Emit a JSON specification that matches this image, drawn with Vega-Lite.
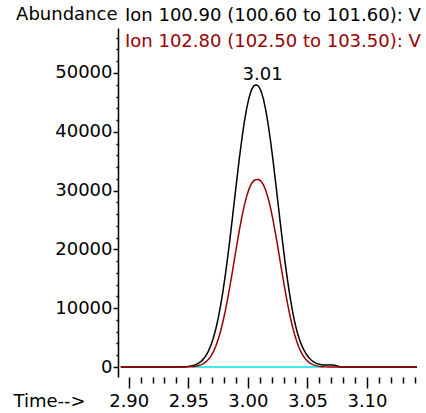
{
  "$schema": "https://vega.github.io/schema/vega-lite/v6.json",
  "width": 299,
  "height": 349,
  "autosize": {"type": "none"},
  "padding": {"left": 118, "top": 28, "right": 9, "bottom": 36},
  "background": "white",
  "config": {"font": "DejaVu Sans", "view": {"stroke": null}},
  "title": {
    "text": "Ion 100.90 (100.60 to 101.60): V",
    "subtitle": "Ion 102.80 (102.50 to 103.50): V",
    "anchor": "start", "frame": "group", "dx": 7, "offset": 0, "dy": 45,
    "fontSize": 18, "fontWeight": "normal", "color": "black", "font": "DejaVu Sans",
    "subtitleColor": "#990000", "subtitleFontSize": 18, "subtitlePadding": 8, "subtitleFont": "DejaVu Sans"
  },
  "datasets": {
    "ion1": [
      {"t": 2.8933, "a": 0}, {"t": 2.92, "a": 0}, {"t": 2.94, "a": 0},
      {"t": 2.945, "a": 31}, {"t": 2.947, "a": 51}, {"t": 2.949, "a": 82}, {"t": 2.951, "a": 130},
      {"t": 2.953, "a": 203}, {"t": 2.955, "a": 311}, {"t": 2.957, "a": 468}, {"t": 2.959, "a": 691},
      {"t": 2.961, "a": 1002}, {"t": 2.963, "a": 1427}, {"t": 2.965, "a": 1994}, {"t": 2.967, "a": 2739},
      {"t": 2.969, "a": 3697}, {"t": 2.971, "a": 4901}, {"t": 2.973, "a": 6387}, {"t": 2.975, "a": 8180},
      {"t": 2.977, "a": 10292}, {"t": 2.979, "a": 12734}, {"t": 2.981, "a": 15496}, {"t": 2.983, "a": 18538},
      {"t": 2.985, "a": 21820}, {"t": 2.987, "a": 25268}, {"t": 2.989, "a": 28796}, {"t": 2.991, "a": 32301},
      {"t": 2.993, "a": 35678}, {"t": 2.995, "a": 38813}, {"t": 2.997, "a": 41602}, {"t": 2.999, "a": 43955},
      {"t": 3.001, "a": 45797}, {"t": 3.003, "a": 47083}, {"t": 3.005, "a": 47803}, {"t": 3.007, "a": 48000},
      {"t": 3.009, "a": 47756}, {"t": 3.011, "a": 46979}, {"t": 3.013, "a": 45637}, {"t": 3.015, "a": 43742},
      {"t": 3.017, "a": 41343}, {"t": 3.019, "a": 38516}, {"t": 3.021, "a": 35352}, {"t": 3.023, "a": 31954},
      {"t": 3.025, "a": 28445}, {"t": 3.027, "a": 24922}, {"t": 3.029, "a": 21485}, {"t": 3.031, "a": 18226},
      {"t": 3.033, "a": 15206}, {"t": 3.035, "a": 12475}, {"t": 3.037, "a": 10066}, {"t": 3.039, "a": 7982},
      {"t": 3.041, "a": 6226}, {"t": 3.043, "a": 4900}, {"t": 3.045, "a": 3800}, {"t": 3.047, "a": 2900},
      {"t": 3.049, "a": 2200}, {"t": 3.051, "a": 1650}, {"t": 3.053, "a": 1230}, {"t": 3.055, "a": 900},
      {"t": 3.057, "a": 660}, {"t": 3.059, "a": 500}, {"t": 3.061, "a": 410}, {"t": 3.063, "a": 360},
      {"t": 3.065, "a": 340}, {"t": 3.067, "a": 330}, {"t": 3.069, "a": 320}, {"t": 3.071, "a": 330},
      {"t": 3.073, "a": 280}, {"t": 3.075, "a": 180}, {"t": 3.077, "a": 60}, {"t": 3.079, "a": 0},
      {"t": 3.1, "a": 0}, {"t": 3.142, "a": 0}
    ],
    "ion2": [
      {"t": 2.8933, "a": 0}, {"t": 2.92, "a": 0}, {"t": 2.94, "a": 0},
      {"t": 2.945, "a": 6}, {"t": 2.947, "a": 11}, {"t": 2.949, "a": 19}, {"t": 2.951, "a": 34},
      {"t": 2.953, "a": 59}, {"t": 2.955, "a": 99}, {"t": 2.957, "a": 161}, {"t": 2.959, "a": 257},
      {"t": 2.961, "a": 400}, {"t": 2.963, "a": 608}, {"t": 2.965, "a": 903}, {"t": 2.967, "a": 1310},
      {"t": 2.969, "a": 1855}, {"t": 2.971, "a": 2570}, {"t": 2.973, "a": 3483}, {"t": 2.975, "a": 4616},
      {"t": 2.977, "a": 5988}, {"t": 2.979, "a": 7608}, {"t": 2.981, "a": 9471}, {"t": 2.983, "a": 11548},
      {"t": 2.985, "a": 13806}, {"t": 2.987, "a": 16192}, {"t": 2.989, "a": 18639}, {"t": 2.991, "a": 21067},
      {"t": 2.993, "a": 23399}, {"t": 2.995, "a": 25552}, {"t": 2.997, "a": 27453}, {"t": 2.999, "a": 29045},
      {"t": 3.001, "a": 30289}, {"t": 3.003, "a": 31166}, {"t": 3.005, "a": 31686}, {"t": 3.007, "a": 31888},
      {"t": 3.009, "a": 31869}, {"t": 3.011, "a": 31610}, {"t": 3.013, "a": 31020}, {"t": 3.015, "a": 30070},
      {"t": 3.017, "a": 28754}, {"t": 3.019, "a": 27097}, {"t": 3.021, "a": 25137}, {"t": 3.023, "a": 22943},
      {"t": 3.025, "a": 20588}, {"t": 3.027, "a": 18148}, {"t": 3.029, "a": 15708}, {"t": 3.031, "a": 13344},
      {"t": 3.033, "a": 11117}, {"t": 3.035, "a": 9079}, {"t": 3.037, "a": 7267}, {"t": 3.039, "a": 5697},
      {"t": 3.041, "a": 4370}, {"t": 3.043, "a": 3283}, {"t": 3.045, "a": 2413}, {"t": 3.047, "a": 1733},
      {"t": 3.049, "a": 1217}, {"t": 3.051, "a": 836}, {"t": 3.053, "a": 561}, {"t": 3.055, "a": 367},
      {"t": 3.057, "a": 235}, {"t": 3.059, "a": 150}, {"t": 3.061, "a": 90}, {"t": 3.063, "a": 50},
      {"t": 3.065, "a": 25}, {"t": 3.067, "a": 10}, {"t": 3.069, "a": 0}, {"t": 3.1, "a": 0}, {"t": 3.142, "a": 0}
    ],
    "base": [{"t": 2.954, "a": 0}, {"t": 3.063, "a": 0}],
    "peak": [{"t": 3.0069, "a": 48000, "label": "3.01"}]
  },
  "encoding": {
    "x": {
      "field": "t", "type": "quantitative",
      "scale": {"domain": [2.891, 3.142], "nice": false, "zero": false},
      "axis": {
        "title": "Time-->", "titleX": -105, "titleY": 29.7, "titleAlign": "left", "titleBaseline": "alphabetic",
        "titleFontSize": 18, "titleFontWeight": "normal", "titleColor": "black", "titleFont": "DejaVu Sans",
        "values": [2.90, 2.91, 2.92, 2.93, 2.94, 2.95, 2.96, 2.97, 2.98, 2.99, 3.00, 3.01, 3.02, 3.03, 3.04, 3.05, 3.06, 3.07, 3.08, 3.09, 3.10, 3.11, 3.12, 3.13, 3.14],
        "labelExpr": "abs(datum.value*20 - round(datum.value*20)) < 0.001 ? format(datum.value, '.2f') : ''",
        "tickSize": {"condition": {"test": "abs(datum.value*20 - round(datum.value*20)) < 0.001", "value": 11}, "value": 6},
        "tickWidth": 1.5, "tickColor": "black", "domain": false, "grid": false,
        "labelFontSize": 18, "labelColor": "black", "labelBaseline": "alphabetic", "labelPadding": 18.7,
        "labelOverlap": false, "labelFlush": false, "labelBound": false, "labelFont": "DejaVu Sans"
      }
    },
    "y": {
      "field": "a", "type": "quantitative",
      "scale": {"domain": [-1700, 57650], "nice": false, "zero": false},
      "axis": {
        "title": "Abundance", "titleAngle": 0, "titleX": -1, "titleY": -8.5, "titleAlign": "right", "titleBaseline": "alphabetic",
        "titleFontSize": 18, "titleFontWeight": "normal", "titleColor": "black", "titleFont": "DejaVu Sans",
        "values": [0, 2000, 4000, 6000, 8000, 10000, 12000, 14000, 16000, 18000, 20000, 22000, 24000, 26000, 28000, 30000, 32000, 34000, 36000, 38000, 40000, 42000, 44000, 46000, 48000, 50000, 52000, 54000, 56000],
        "labelExpr": "datum.value % 10000 == 0 ? format(datum.value, 'd') : ''",
        "tickSize": {"condition": {"test": "datum.value % 10000 == 0", "value": 5}, "value": 2},
        "domain": true, "domainColor": "black", "domainWidth": 1.5, "domainOpacity": 1,
        "tickColor": "black", "tickWidth": 1.5, "grid": false,
        "labelFontSize": 18, "labelColor": "black", "labelPadding": 1, "labelBaseline": "middle",
        "labelOverlap": false, "labelFlush": false, "labelBound": false, "labelFont": "DejaVu Sans"
      }
    }
  },
  "layer": [
    {"data": {"name": "base"}, "mark": {"type": "line", "color": "#00e5e5", "strokeWidth": 1.5, "clip": true}},
    {"data": {"name": "ion1"}, "mark": {"type": "line", "color": "black", "strokeWidth": 1.5, "clip": true}},
    {"data": {"name": "ion2"}, "mark": {"type": "line", "color": "#990000", "strokeWidth": 1.5, "clip": true}},
    {"data": {"name": "peak"}, "mark": {"type": "text", "fontSize": 18, "font": "DejaVu Sans", "color": "black", "align": "center", "baseline": "alphabetic", "dx": 6.5, "dy": -5},
     "encoding": {"text": {"field": "label"}}}
  ]
}
